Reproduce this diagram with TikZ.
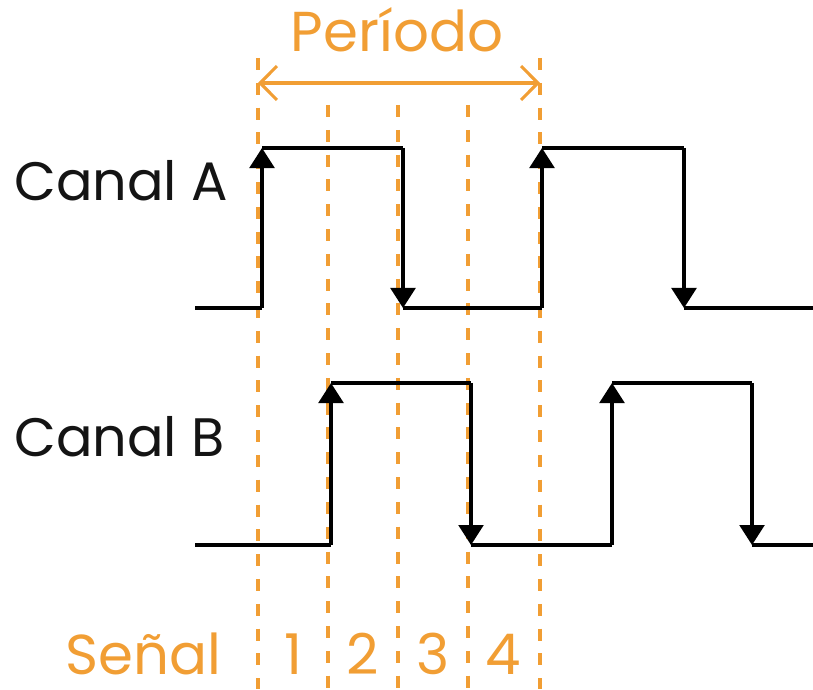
\documentclass[tikz,border=0pt]{standalone}
\usepackage{fontspec}
\setmainfont{Poppins}
\usepackage{tikz}
\usetikzlibrary{arrows.meta,calc}
\definecolor{naranja}{RGB}{241,158,52}
\definecolor{tinta}{RGB}{20,20,20}

\begin{document}
\begin{tikzpicture}[
  x=0.025cm, y=-0.025cm,
  wave/.style={draw=black, line width=2.2pt},
  up/.style={wave, -{Triangle[length=0.5cm,width=0.62cm]}},
  guia/.style={draw=naranja, line width=2.2pt, dash pattern=on 0.3cm off 0.32cm},
  periodo/.style={draw=naranja, line width=2.2pt, {Straight Barb[length=0.42cm,width=0.85cm]}-{Straight Barb[length=0.42cm,width=0.85cm]}},
  etiqueta/.style={font=\fontsize{38.5}{42}\selectfont, text=tinta, inner sep=0pt},
  marca/.style={font=\fontsize{40}{44}\selectfont, text=naranja, inner sep=0pt}
]
\useasboundingbox (0,0) rectangle (813,689);

% guias de los pasos
\foreach \n/\x/\t in {0/258/58, 1/328/105, 2/398/105, 3/468/105, 4/540/58} {
  \coordinate (g\n) at (\x,\t);
  \coordinate (b\n) at (\x,689);
  \draw[guia] (g\n) -- (b\n);
}

% periodo
\coordinate (p0) at (258,83);
\coordinate (p1) at (540,83);
\draw[periodo] (p0) -- (p1);
\node[marca, anchor=base] (periodo) at (397,52) {Período};

% canal A
\node[etiqueta, anchor=base west] (canalA) at (14,200) {Canal A};
\draw[wave] (195,308) -- (262,308);
\draw[up] (262,308) -- (262,148);
\draw[wave] (262,148) -- (403,148);
\draw[up] (403,148) -- (403,308);
\draw[wave] (403,308) -- (542,308);
\draw[up] (542,308) -- (542,148);
\draw[wave] (542,148) -- (684,148);
\draw[up] (684,148) -- (684,308);
\draw[wave] (684,308) -- (813,308);

% canal B
\node[etiqueta, anchor=base west] (canalB) at (14,456) {Canal B};
\draw[wave] (195,545) -- (331,545);
\draw[up] (331,545) -- (331,383);
\draw[wave] (331,383) -- (471,383);
\draw[up] (471,383) -- (471,545);
\draw[wave] (471,545) -- (612,545);
\draw[up] (612,545) -- (612,383);
\draw[wave] (612,383) -- (752,383);
\draw[up] (752,383) -- (752,545);
\draw[wave] (752,545) -- (813,545);

% senal
\node[marca, anchor=base east] (senal) at (222,674) {Señal};
\foreach \n/\x in {1/293, 2/363, 3/433, 4/503}
  \node[marca, anchor=base] (paso\n) at (\x,674) {\n};
\end{tikzpicture}
\end{document}
